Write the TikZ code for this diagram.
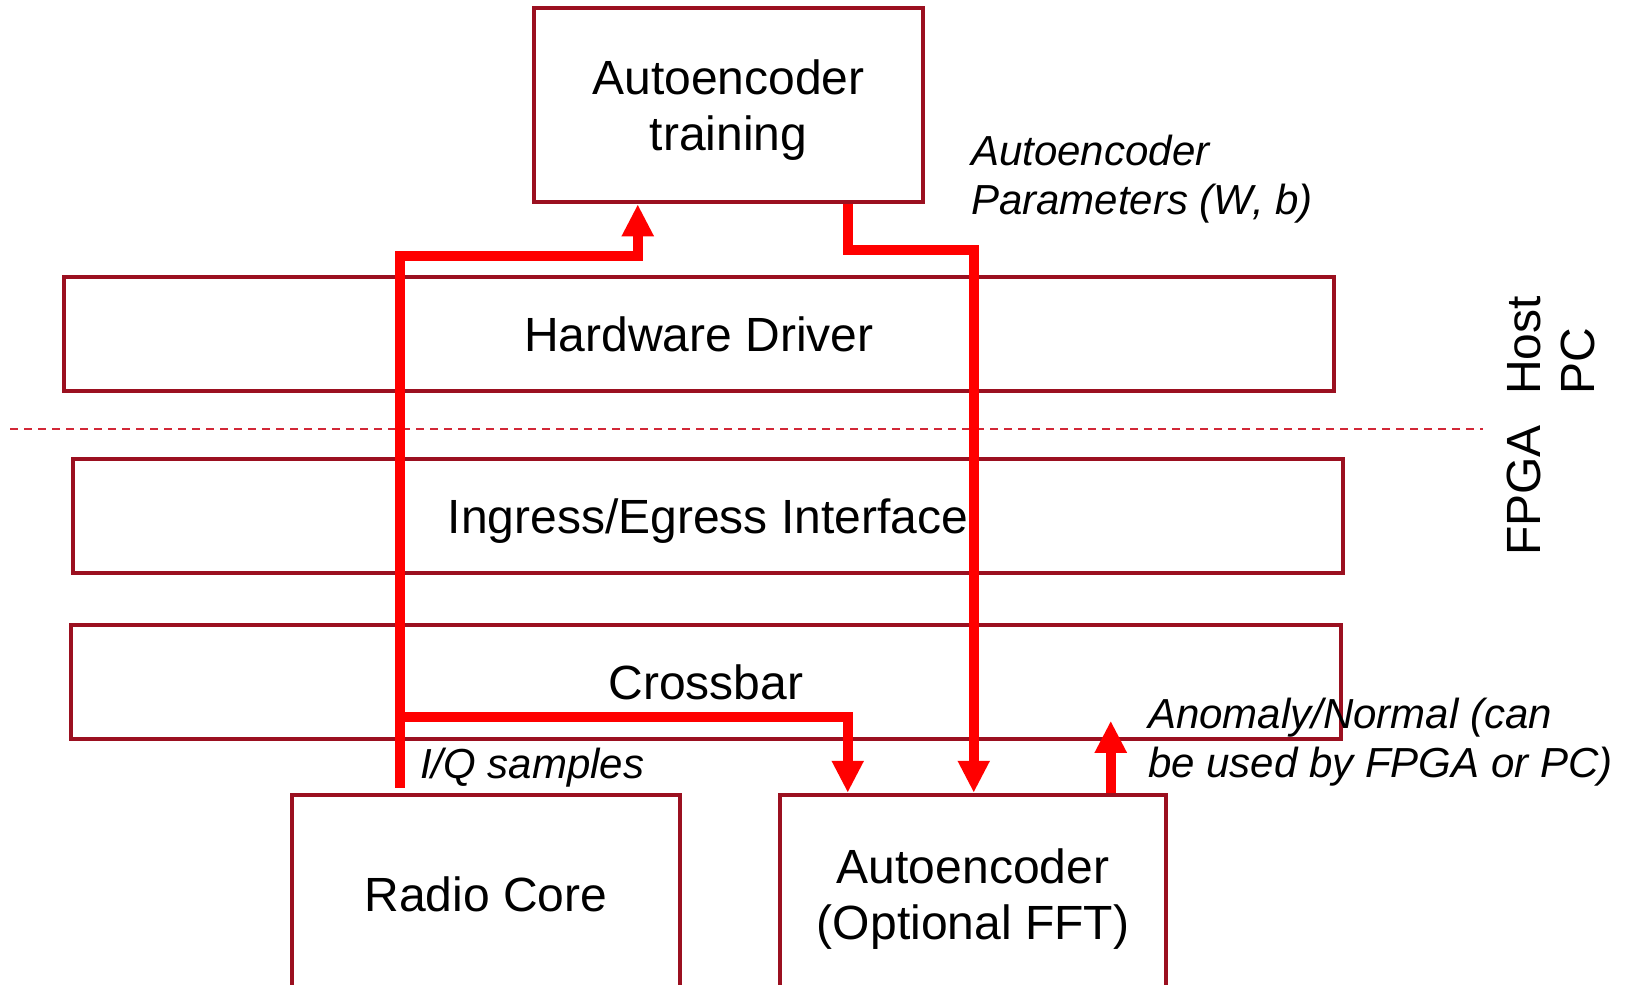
\documentclass[tikz,border=0pt]{standalone}
\usepackage{fontspec}
\setmainfont{Liberation Sans}
\usetikzlibrary{arrows.meta}
\definecolor{boxred}{RGB}{155,16,32}
\definecolor{flowred}{RGB}{255,0,0}
\definecolor{splitred}{RGB}{210,40,55}
\begin{document}
\begin{tikzpicture}[x=1pt,y=-1pt,
  block/.style={draw=boxred, line width=4.5pt, rectangle, inner sep=0pt,
    text depth=0pt, align=center, font=\fontsize{48}{56}\selectfont},
  flow/.style={draw=flowred, line width=10pt, -{Triangle[width=30pt,length=32pt]}},
  note/.style={inner sep=0pt, align=left, font=\fontsize{42}{49}\selectfont\itshape},
  side/.style={inner sep=0pt, align=left, rotate=90, font=\fontsize{48}{54}\selectfont}]
\path[use as bounding box] (0,0) rectangle (1626,985);
\clip (0,0) rectangle (1626,985);

% layers and blocks
\node[block, minimum width=389pt, minimum height=194pt] (train) at (728.5,105) {Autoencoder\\training};
\node[block, minimum width=1270pt, minimum height=114pt] (hw) at (699,334) {Hardware Driver};
\node[block, minimum width=1270pt, minimum height=114pt] (ingress) at (708,516) {Ingress/Egress Interface};
\node[block, minimum width=1270pt, minimum height=114pt] (xbar) at (706,682) {Crossbar};
\node[block, minimum width=388pt, minimum height=198pt] (radio) at (486,894) {Radio Core};
\node[block, minimum width=386pt, minimum height=198pt] (ae) at (973,894) {Autoencoder\\(Optional FFT)};

% host / FPGA boundary
\coordinate (splitL) at (10,429);
\coordinate (splitR) at (1483,429);
\draw[splitred, line width=2pt, dash pattern=on 8pt off 6pt] (splitL) -- (splitR);
\node[side, anchor=west] (host) at (1551,395) {Host\\PC};
\node[side, anchor=west] (fpga) at (1524,556) {FPGA};

% data paths
\coordinate (iqsrc) at ([xshift=110pt,yshift=5pt]radio.north west);
\coordinate (iqsplit) at ([xshift=110pt,yshift=76pt]radio.north west);
\coordinate (traintap) at ([xshift=106pt,yshift=-52pt]train.south west);
\draw[flow] (iqsrc) |- (traintap) -- ([xshift=106pt]train.south west);
\draw[flow] (iqsplit) -| ([xshift=70pt]ae.north west);
\draw[flow] ([xshift=316pt]train.south west) -- ++(0,46) -| ([xshift=196pt]ae.north west);
\draw[flow] ([xshift=333pt]ae.north west) -- ++(0,-72);

% labels (base anchor sits on the last line's baseline)
\node[note, anchor=base west] (params) at (971,214) {Autoencoder\\Parameters (W, b)};
\node[note, anchor=base west] (iq) at (420,778) {I/Q samples};
\node[note, anchor=base west] (result) at (1148,777) {Anomaly/Normal (can\\be used by FPGA or PC)};
\end{tikzpicture}
\end{document}
